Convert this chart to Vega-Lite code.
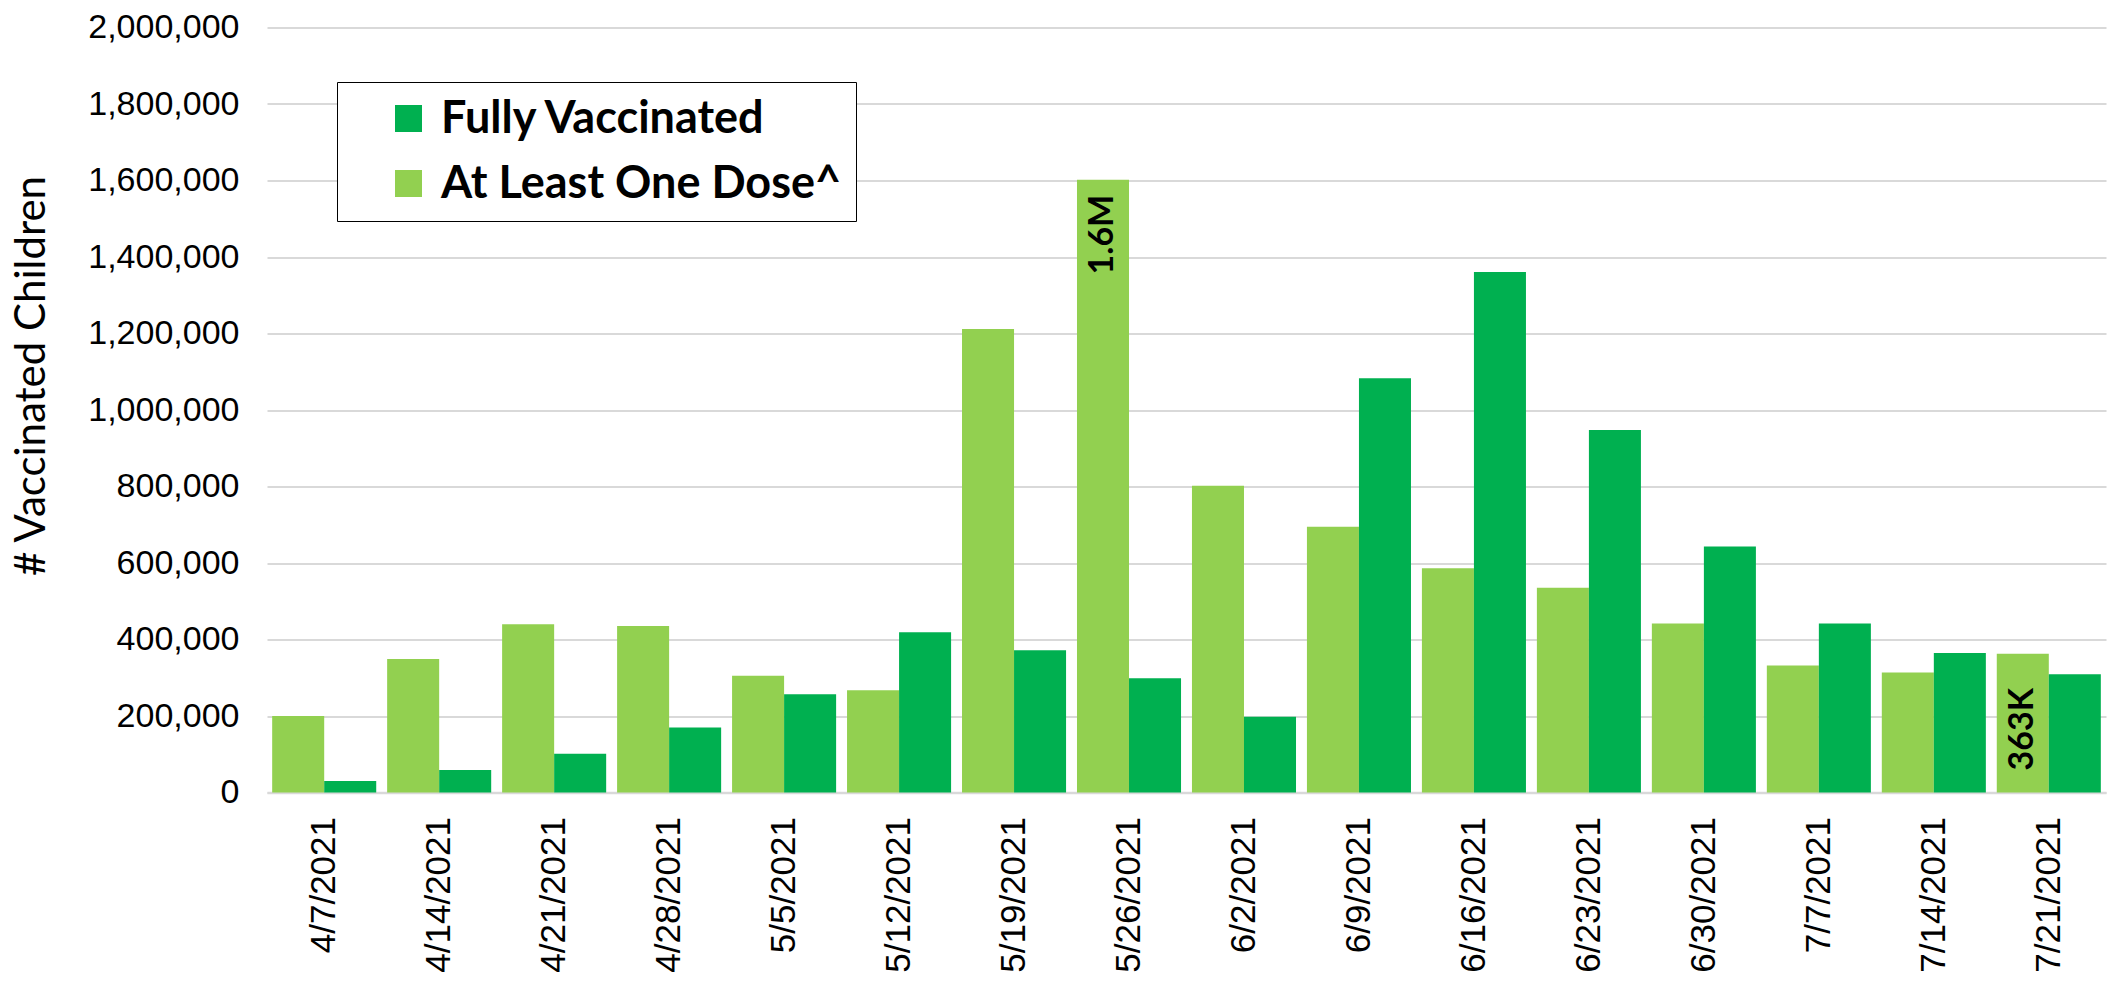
{
  "$schema": "https://vega.github.io/schema/vega-lite/v6.json",
  "autosize": "none",
  "width": 1839,
  "height": 765,
  "padding": {"left": 267, "top": 27.5, "right": 2, "bottom": 189.5},
  "background": "white",
  "config": {"view": {"stroke": null}, "font": "Liberation Sans"},
  "datasets": {
    "bars": [
      {"date": "4/7/2021", "series": "At Least One Dose^", "value": 200000},
      {"date": "4/7/2021", "series": "Fully Vaccinated", "value": 30000},
      {"date": "4/14/2021", "series": "At Least One Dose^", "value": 349000},
      {"date": "4/14/2021", "series": "Fully Vaccinated", "value": 59000},
      {"date": "4/21/2021", "series": "At Least One Dose^", "value": 440000},
      {"date": "4/21/2021", "series": "Fully Vaccinated", "value": 101000},
      {"date": "4/28/2021", "series": "At Least One Dose^", "value": 435000},
      {"date": "4/28/2021", "series": "Fully Vaccinated", "value": 170000},
      {"date": "5/5/2021", "series": "At Least One Dose^", "value": 305000},
      {"date": "5/5/2021", "series": "Fully Vaccinated", "value": 257000},
      {"date": "5/12/2021", "series": "At Least One Dose^", "value": 267000},
      {"date": "5/12/2021", "series": "Fully Vaccinated", "value": 419000},
      {"date": "5/19/2021", "series": "At Least One Dose^", "value": 1212000},
      {"date": "5/19/2021", "series": "Fully Vaccinated", "value": 372000},
      {"date": "5/26/2021", "series": "At Least One Dose^", "value": 1602000},
      {"date": "5/26/2021", "series": "Fully Vaccinated", "value": 299000},
      {"date": "6/2/2021", "series": "At Least One Dose^", "value": 802000},
      {"date": "6/2/2021", "series": "Fully Vaccinated", "value": 198000},
      {"date": "6/9/2021", "series": "At Least One Dose^", "value": 695000},
      {"date": "6/9/2021", "series": "Fully Vaccinated", "value": 1083000},
      {"date": "6/16/2021", "series": "At Least One Dose^", "value": 586000},
      {"date": "6/16/2021", "series": "Fully Vaccinated", "value": 1361000},
      {"date": "6/23/2021", "series": "At Least One Dose^", "value": 535000},
      {"date": "6/23/2021", "series": "Fully Vaccinated", "value": 948000},
      {"date": "6/30/2021", "series": "At Least One Dose^", "value": 442000},
      {"date": "6/30/2021", "series": "Fully Vaccinated", "value": 643000},
      {"date": "7/7/2021", "series": "At Least One Dose^", "value": 332000},
      {"date": "7/7/2021", "series": "Fully Vaccinated", "value": 442000},
      {"date": "7/14/2021", "series": "At Least One Dose^", "value": 314000},
      {"date": "7/14/2021", "series": "Fully Vaccinated", "value": 365000},
      {"date": "7/21/2021", "series": "At Least One Dose^", "value": 363000},
      {"date": "7/21/2021", "series": "Fully Vaccinated", "value": 309000}
    ],
    "labels": [
      {"date": "5/26/2021", "series": "At Least One Dose^", "value": 1602000, "label": "1.6M"},
      {"date": "7/21/2021", "series": "At Least One Dose^", "value": 363000, "label": "363K"}
    ]
  },
  "layer": [
    {
      "data": {"name": "bars"},
      "mark": {"type": "bar"},
      "encoding": {
        "x": {
          "field": "date", "type": "nominal", "sort": null,
          "scale": {
            "domain": ["4/7/2021","4/14/2021","4/21/2021","4/28/2021","5/5/2021","5/12/2021","5/19/2021","5/26/2021","6/2/2021","6/9/2021","6/16/2021","6/23/2021","6/30/2021","7/7/2021","7/14/2021","7/21/2021"],
            "paddingInner": 0.095, "paddingOuter": 0.045
          },
          "axis": {
            "title": null, "labelAngle": 270, "labelAlign": "right", "labelBaseline": "middle",
            "labelPadding": 24, "labelFontSize": 35, "labelColor": "#000000", "labelFont": "Liberation Sans",
            "ticks": false, "domain": true, "domainColor": "#d9d9d9", "domainWidth": 2.5, "grid": false
          }
        },
        "xOffset": {
          "field": "series", "type": "nominal",
          "scale": {"domain": ["At Least One Dose^", "Fully Vaccinated"], "paddingInner": 0, "paddingOuter": 0}
        },
        "y": {
          "field": "value", "type": "quantitative",
          "scale": {"domain": [0, 2000000], "nice": false},
          "axis": {
            "title": "# Vaccinated Children",
            "values": [0,200000,400000,600000,800000,1000000,1200000,1400000,1600000,1800000,2000000],
            "format": ",d", "labelFontSize": 34, "labelColor": "#000000", "labelFont": "Liberation Sans",
            "labelPadding": 28, "ticks": false, "domain": false,
            "gridColor": "#d9d9d9", "gridWidth": 2,
            "titleFont": "Lato", "titleFontWeight": "normal", "titleFontSize": 42, "titleColor": "#000000",
            "titleAngle": 270, "titleX": -236, "titleY": 348, "titleAlign": "center", "titleBaseline": "middle"
          }
        },
        "color": {
          "field": "series", "type": "nominal",
          "scale": {"domain": ["Fully Vaccinated", "At Least One Dose^"], "range": ["#00B050", "#92D050"]},
          "legend": {
            "title": null, "orient": "none", "legendX": 70, "legendY": 54.5, "direction": "vertical",
            "symbolType": "square", "symbolSize": 729, "symbolStrokeWidth": 0, "symbolOffset": 35,
            "symbolOpacity": 1,
            "labelFont": "Lato", "labelFontWeight": "bold", "labelFontSize": 45, "labelColor": "#000000",
            "labelOffset": 10, "labelLimit": 0, "rowPadding": 19, "padding": 14,
            "strokeColor": "#000000", "fillColor": "#ffffff"
          }
        }
      }
    },
    {
      "data": {"name": "labels"},
      "transform": [{"filter": "datum.label == '1.6M'"}],
      "mark": {"type": "text", "angle": 270, "align": "right", "baseline": "middle", "dx": -15, "font": "Lato", "fontWeight": "bold", "fontSize": 34, "color": "#000000"},
      "encoding": {
        "x": {"field": "date", "type": "nominal", "sort": null},
        "xOffset": {"field": "series", "type": "nominal"},
        "y": {"field": "value", "type": "quantitative"},
        "text": {"field": "label", "type": "nominal"}
      }
    },
    {
      "data": {"name": "labels"},
      "transform": [{"filter": "datum.label == '363K'"}],
      "mark": {"type": "text", "angle": 270, "align": "left", "baseline": "middle", "dx": 22, "font": "Lato", "fontWeight": "bold", "fontSize": 34, "color": "#000000"},
      "encoding": {
        "x": {"field": "date", "type": "nominal", "sort": null},
        "xOffset": {"field": "series", "type": "nominal"},
        "y": {"datum": 0, "type": "quantitative"},
        "text": {"field": "label", "type": "nominal"}
      }
    }
  ]
}
